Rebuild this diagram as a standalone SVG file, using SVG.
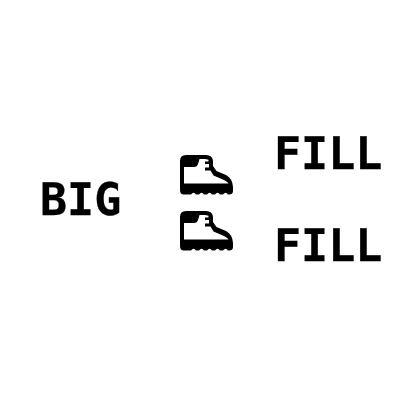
<svg xmlns="http://www.w3.org/2000/svg" width="400" height="400" viewBox="0 0 400 400">
<style>
text{font-family:"DejaVu Sans Mono",monospace;font-weight:700;font-size:45px;fill:#000;stroke:#000;stroke-width:.3;text-rendering:geometricPrecision}
.flat{filter:url(#noop)}
</style>
<defs>
<filter id="noop" x="0" y="0" width="1" height="1" color-interpolation-filters="sRGB"><feOffset dx="0" dy="0"/></filter>
<g id="boot">
<path fill="#000" d="M186 155H206Q212.500 155 213 161V166L216.500 171L226 175Q232.500 178.500 233 187V191Q233 194.500 229 194.500H228Q225.500 191 223 194.500H220Q217.500 191 215 194.500H212Q209.500 191 207 194.500H204Q201.500 191 199 194.500H196Q193.500 191 191 194.500H184Q180 194.500 180 190V161Q180 155 186 155Z"/>
<path fill="#fff" d="M184 167H194Q197 167 198 164L199.500 159H205Q208.500 159 208.500 160.500V161.500H205V164H209V167.500H205V170.500H210.500L213.500 175.500L224 180Q227.500 181.500 228.500 183.500H184Z"/>
</g>
</defs>
<g id="big" class="flat"><text x="40" y="215">BIG</text></g>
<g id="boot-1"><use href="#boot"/></g>
<g id="boot-2"><use href="#boot" y="56"/></g>
<g id="fill-1" class="flat"><text x="274" y="169">FILL</text></g>
<g id="fill-2" class="flat"><text x="274" y="261">FILL</text></g>
<g id="connectors"></g>
</svg>
